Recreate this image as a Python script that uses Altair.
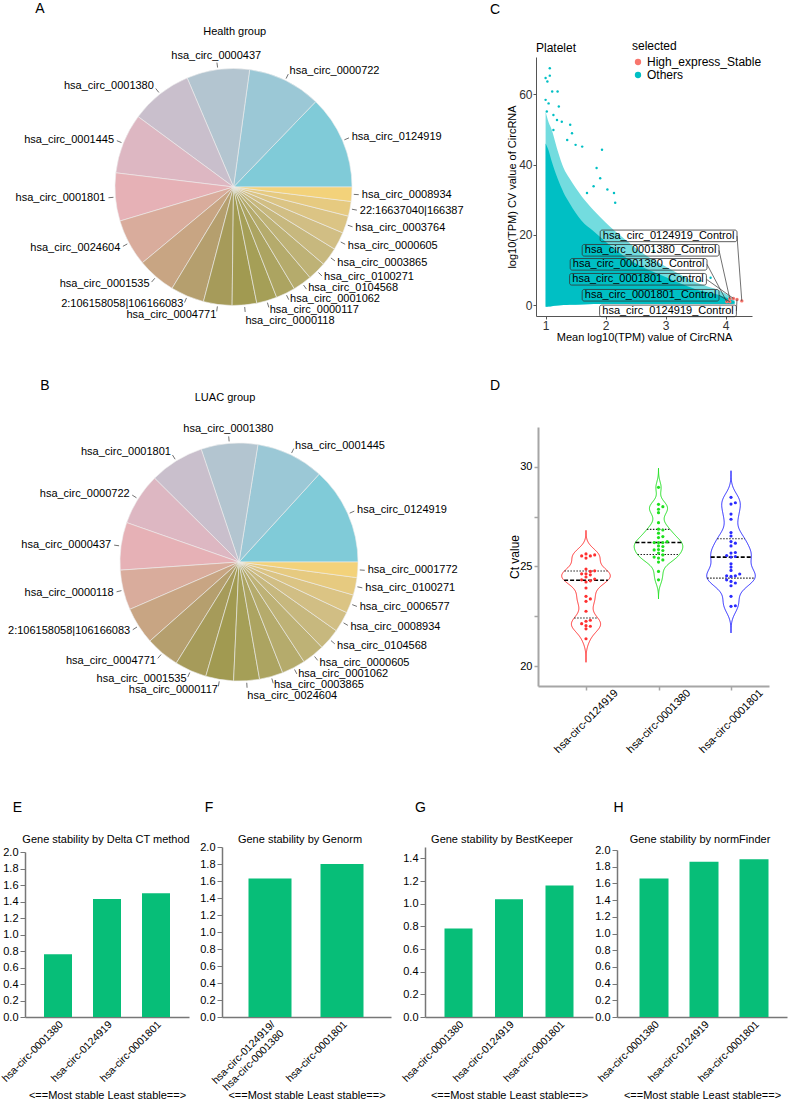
import math
import numpy as np
import pandas as pd
import altair as alt

FONT = "Liberation Sans"
CANVAS_W, CANVAS_H = 788, 1101

# ---------------- A / B: share of the most abundant circRNAs ----------------
health_names = [
    "hsa_circ_0124919", "hsa_circ_0000722", "hsa_circ_0000437", "hsa_circ_0001380",
    "hsa_circ_0001445", "hsa_circ_0001801", "hsa_circ_0024604", "hsa_circ_0001535",
    "2:106158058|106166083", "hsa_circ_0004771", "hsa_circ_0000118", "hsa_circ_0000117",
    "hsa_circ_0001062", "hsa_circ_0104568", "hsa_circ_0100271", "hsa_circ_0003865",
    "hsa_circ_0000605", "hsa_circ_0003764", "22:16637040|166387", "hsa_circ_0008934",
]
health_share = [46, 36, 30.8, 30.5, 29.5, 23.5, 23, 19, 16.5, 14,
                12, 10, 9.5, 9.3, 9.2, 9, 8.8, 8.5, 7.2, 7]

luac_names = [
    "hsa_circ_0124919", "hsa_circ_0001445", "hsa_circ_0001380", "hsa_circ_0001801",
    "hsa_circ_0000722", "hsa_circ_0000437", "hsa_circ_0000118", "2:106158058|106166083",
    "hsa_circ_0004771", "hsa_circ_0001535", "hsa_circ_0000117", "hsa_circ_0024604",
    "hsa_circ_0003865", "hsa_circ_0001062", "hsa_circ_0000605", "hsa_circ_0104568",
    "hsa_circ_0008934", "hsa_circ_0006577", "hsa_circ_0100271", "hsa_circ_0001772",
]
luac_share = [47.3, 33, 27.5, 26.5, 25.3, 23.1, 19.4, 18, 16.5, 15.5,
              13.5, 12.5, 11.5, 11.5, 11, 10.5, 10, 9, 8.5, 7.5]

slice_colors = [
    "#80cbd8", "#9bc8d6", "#b3c5d0", "#c9bfcc", "#ddb7c2", "#e6b1b6", "#d9ac9c",
    "#c8a583", "#b59f6e", "#a69b5a", "#a19a51", "#a59f57", "#aca461", "#b5ab6c",
    "#beb276", "#c7b87e", "#d1be84", "#dbc484", "#e6ca80", "#f3d27a",
]

# ---------------- C: platelet circRNA mean expression vs CV ----------------
cloud_x = [1.00, 1.05, 1.10, 1.20, 1.30, 1.40, 1.60, 1.80, 2.00, 2.30, 2.60, 3.00, 3.50, 4.00, 4.15]
cloud_edge = [55, 52, 50, 44, 39, 36, 31, 27, 23.5, 19, 15, 11, 6.5, 3.2, 1.4]
cloud_core = [46, 44, 41, 36, 32, 29, 24, 21, 18, 14, 11, 8, 4.5, 2.2, 1.0]
cloud_floor = [-0.5, -0.4, -0.3, -0.1, 0.0, 0.1, 0.2, 0.3, 0.3, 0.3, 0.3, 0.3, 0.3, 0.3, 0.4]

other_x = [1.07, 1.00, 1.07, 1.03, 1.11, 1.20, 1.00, 1.05, 1.22, 1.02, 1.13, 1.41, 1.19,
           1.27, 1.50, 1.61, 1.94, 1.91, 1.85, 2.14, 1.80, 1.69, 2.03, 1.36, 1.44, 1.13,
           2.16, 2.80, 3.30, 3.58, 3.75]
other_y = [67.4, 64.6, 65.3, 63.6, 60.8, 60.8, 58.4, 57.4, 56.5, 55.1, 54.1, 51.3, 52.7,
           52.2, 45.6, 45.1, 44.2, 36.1, 39.0, 31.9, 33.8, 31.9, 32.9, 47.0, 48.9, 49.8,
           29.1, 15.4, 7.8, 6.9, 7.8]
stable_x = [4.02, 4.07, 4.07, 4.13, 4.19, 4.27]
stable_y = [0.95, 1.8, 0.95, 1.9, 1.6, 1.2]

control_labels = ["hsa_circ_0124919_Control", "hsa_circ_0001380_Control",
                  "hsa_circ_0001380_Control", "hsa_circ_0001801_Control",
                  "hsa_circ_0001801_Control", "hsa_circ_0124919_Control"]
control_label_x = [3.05, 2.75, 2.55, 2.54, 2.75, 3.04]
control_label_y = [19.7, 15.6, 11.6, 7.35, 2.8, -1.65]
control_target = [5, 1, 0, 3, 2, 4]

# ---------------- D: Ct values of the three candidates ----------------
ct_groups = ["hsa-circ-0124919", "hsa-circ-0001380", "hsa-circ-0001801"]
ct_0124919 = [25.63, 25.58, 25.53, 25.53, 25.42, 24.87, 24.78, 24.75, 24.63, 24.63,
              24.58, 24.47, 24.37, 24.33, 24.28, 24.22, 23.92, 23.5, 23.37, 23.25,
              22.75, 22.3, 22.25, 22.13, 22.03, 22.0, 21.87, 21.37]
ct_0001380 = [28.97, 28.12, 28.0, 27.87, 27.7, 27.2, 26.87, 26.83, 26.67, 26.5,
              26.45, 26.25, 26.2, 26.2, 26.2, 26.03, 26.0, 25.85, 25.83, 25.8,
              25.67, 25.58, 25.47, 25.42, 25.33, 25.22, 24.75, 24.33]
ct_0001801 = [28.47, 28.2, 28.13, 27.63, 27.37, 26.7, 26.53, 26.25, 26.17, 26.03,
              25.7, 25.67, 25.55, 25.5, 25.47, 25.13, 24.97, 24.8, 24.62, 24.53,
              24.53, 24.5, 24.33, 24.25, 24.17, 24.03, 23.5, 23.03, 23.0]
ct_values = [ct_0124919, ct_0001380, ct_0001801]
ct_colors = ["#ff3030", "#1ee01e", "#2a2aff"]

# ---------------- E-H: stability scores ----------------
rank_genes = ["hsa-circ-0001380", "hsa-circ-0124919", "hsa-circ-0001801"]
delta_ct_score = [0.76, 1.43, 1.50]
genorm_genes = ["hsa-circ-0124919/hsa-circ-0001380", "hsa-circ-0001801"]
genorm_score = [1.63, 1.80]
bestkeeper_score = [0.78, 1.04, 1.16]
normfinder_score = [1.66, 1.86, 1.89]

CYAN = "#00bfc4"
SALMON = "#f8766d"
BAR_GREEN = "#07be78"


def note(text, x, y, size=11, align="center", angle=0):
    return alt.Chart(alt.Data(values=[{}])).mark_text(
        x=x, y=y, fontSize=size, align=align, baseline="middle", color="black", angle=angle
    ).encode(text=alt.value(text))


# ---------------- pie panels ----------------
def pie_panel(names, shares, cx, cy, R, gap=11.0):
    total = float(sum(shares))
    n = len(names)
    slices, labels, ticks = [], [], []
    cum = 0.0
    for i, (nm, v) in enumerate(zip(names, shares)):
        mid = 2 * math.pi * (cum + v / 2) / total   # counter-clockwise from 3 o'clock
        cum += v
        c, s = math.cos(mid), math.sin(mid)
        slices.append({"name": nm, "share": v, "stack": n - 1 - i})
        ticks.append({"x": (R + 2) * c, "y": (R + 2) * s, "x2": (R + 7) * c, "y2": (R + 7) * s})
        if abs(c) < 0.2 and s > 0:
            labels.append({"name": nm, "side": "center", "x": (R + 12) * c, "y": (R + 14) * s})
        else:
            labels.append({"name": nm, "side": "left" if c >= 0 else "right",
                           "x": (R + 10) * c, "y": (R + 10) * s})
    # push crowded labels apart vertically on each side
    for side in ("left", "right"):
        grp = sorted([l for l in labels if l["side"] == side], key=lambda l: -l["y"])
        for _ in range(500):
            moved = False
            for a, b in zip(grp, grp[1:]):
                d = a["y"] - b["y"]
                if d < gap - 1e-6:
                    sh = (gap - d) / 2
                    a["y"] += sh
                    b["y"] -= sh
                    moved = True
            if not moved:
                break

    xs = alt.Scale(domain=[-300, 300], range=[cx - 300, cx + 300], nice=False, zero=False)
    ys = alt.Scale(domain=[-300, 300], range=[cy + 300, cy - 300], nice=False, zero=False)

    arcs = alt.Chart(pd.DataFrame(slices)).mark_arc(
        radius=R, stroke="#ececec", strokeWidth=0.6
    ).encode(
        x=alt.XDatum(0, type="quantitative", scale=xs, axis=None),
        y=alt.YDatum(0, type="quantitative", scale=ys, axis=None),
        theta=alt.Theta("share:Q", stack=True,
                        scale=alt.Scale(range=[math.pi / 2, math.pi / 2 + 2 * math.pi])),
        order=alt.Order("stack:Q"),
        color=alt.Color("name:N", scale=alt.Scale(domain=names, range=slice_colors), legend=None),
    )
    leaders = alt.Chart(pd.DataFrame(ticks)).mark_rule(color="#4d4d4d", strokeWidth=0.8).encode(
        x=alt.X("x:Q", scale=xs, axis=None), y=alt.Y("y:Q", scale=ys, axis=None),
        x2="x2:Q", y2="y2:Q",
    )
    lab_df = pd.DataFrame(labels)
    layers = [arcs, leaders]
    for side in ("left", "right", "center"):
        sub = lab_df[lab_df["side"] == side]
        if len(sub) == 0:
            continue
        layers.append(
            alt.Chart(sub).mark_text(align=side, baseline="middle", fontSize=11, color="black").encode(
                x=alt.X("x:Q", scale=xs, axis=None), y=alt.Y("y:Q", scale=ys, axis=None),
                text="name:N",
            )
        )
    return alt.layer(*layers)


pie_a = pie_panel(health_names, health_share, 233.5, 187, 118.5)
pie_b = pie_panel(luac_names, luac_share, 239, 562, 119)

# ---------------- scatter panel C ----------------
sx = alt.Scale(domain=[0.84, 4.44], range=[536, 752], nice=False, zero=False)
sy = alt.Scale(domain=[-3.1, 70.6], range=[316, 57], nice=False, zero=False)
c_xaxis = alt.Axis(orient="bottom", offset=316 - CANVAS_H, values=[1, 2, 3, 4], format="d",
                   title="Mean log10(TPM) value of CircRNA", titleY=21, titleBaseline="middle",
                   titleFontSize=11, titleFontWeight="normal", labelFontSize=12, tickSize=3,
                   labelPadding=1, domainColor="#555", tickColor="#555", labelColor="#333",
                   grid=False, labelFlush=False)
c_yaxis = alt.Axis(orient="left", offset=-536, values=[0, 20, 40, 60], format="d",
                   title="log10(TPM) CV value of CircRNA", titleX=-24, titleBaseline="middle",
                   titleFontSize=11, titleFontWeight="normal", labelFontSize=12, tickSize=3,
                   labelPadding=1, domainColor="#555", tickColor="#555", labelColor="#333",
                   grid=False, labelFlush=False)

cloud = pd.DataFrame({"x": cloud_x, "edge": cloud_edge, "core": cloud_core, "floor": cloud_floor})
cloud_edge_layer = alt.Chart(cloud).mark_area(color=CYAN, opacity=0.55, interpolate="monotone").encode(
    x=alt.X("x:Q", scale=sx, axis=c_xaxis), y=alt.Y("edge:Q", scale=sy, axis=c_yaxis), y2="floor:Q")
cloud_core_layer = alt.Chart(cloud).mark_area(color=CYAN, opacity=1, interpolate="monotone").encode(
    x=alt.X("x:Q", scale=sx), y=alt.Y("core:Q", scale=sy), y2="floor:Q")

pts = pd.DataFrame({
    "x": other_x + stable_x,
    "y": other_y + stable_y,
    "selected": ["Others"] * len(other_x) + ["High_express_Stable"] * len(stable_x),
})
c_points = alt.Chart(pts).mark_circle(opacity=1).encode(
    x=alt.X("x:Q", scale=sx), y=alt.Y("y:Q", scale=sy),
    size=alt.Size("selected:N", scale=alt.Scale(domain=["High_express_Stable", "Others"], range=[12, 6]),
                  legend=None),
    color=alt.Color("selected:N",
                    scale=alt.Scale(domain=["High_express_Stable", "Others"], range=[SALMON, CYAN]),
                    legend=alt.Legend(title="selected", orient="none", legendX=632, legendY=41,
                                      titleFontSize=12, titleFontWeight="normal", labelFontSize=12,
                                      symbolType="circle", symbolSize=40, rowPadding=1,
                                      titlePadding=3, padding=0, labelOffset=3)),
)

BOX_HW, BOX_HH = 1.14, 1.65
lab = pd.DataFrame({
    "label": control_labels,
    "lx": control_label_x,
    "ly": control_label_y,
    "tx": [stable_x[i] for i in control_target],
    "ty": [stable_y[i] for i in control_target],
})
lab["bx1"] = lab["lx"] - BOX_HW
lab["bx2"] = lab["lx"] + BOX_HW
lab["by1"] = lab["ly"] - BOX_HH
lab["by2"] = lab["ly"] + BOX_HH
c_leaders = alt.Chart(lab).mark_rule(color="#333", strokeWidth=0.7).encode(
    x=alt.X("bx2:Q", scale=sx), y=alt.Y("ly:Q", scale=sy), x2="tx:Q", y2="ty:Q")
c_boxes = alt.Chart(lab).mark_rect(fillOpacity=0, stroke="#333", strokeWidth=0.8, cornerRadius=2).encode(
    x=alt.X("bx1:Q", scale=sx), x2="bx2:Q", y=alt.Y("by1:Q", scale=sy), y2="by2:Q")
c_text = alt.Chart(lab).mark_text(fontSize=11, color="black").encode(
    x=alt.X("lx:Q", scale=sx), y=alt.Y("ly:Q", scale=sy), text="label:N")

scatter_c = alt.layer(cloud_edge_layer, cloud_core_layer, c_points, c_leaders, c_boxes, c_text)

# ---------------- violin panel D ----------------
outline_rows, quart_rows, point_rows = [], [], []
HALF_MAX = 0.335


def swarm_offsets(vals, dy=0.16, dx=0.06):
    placed = []
    res = [0.0] * len(vals)
    cands = [0.0] + [s * j * dx for j in range(1, 12) for s in (1, -1)]
    for idx in np.argsort(vals):
        v = vals[idx]
        for c in cands:
            if all(not (abs(v - pv) < dy and abs(c - pc) < dx * 0.99) for pv, pc in placed):
                break
        placed.append((v, c))
        res[idx] = c
    return res


for gi, (g, vals) in enumerate(zip(ct_groups, ct_values)):
    arr = np.asarray(vals, dtype=float)
    h = 0.5 * 1.06 * arr.std(ddof=1) * len(arr) ** (-0.2)
    grid = np.linspace(arr.min() - 3.3 * h, arr.max() + 3.3 * h, 220)
    dens = np.exp(-0.5 * ((grid[:, None] - arr[None, :]) / h) ** 2).sum(axis=1)
    half = HALF_MAX * dens / dens.max()
    for yv, hw in zip(grid, half):
        outline_rows.append({"group": g, "y": float(yv), "xl": gi - float(hw), "xr": gi + float(hw)})
    q1, med, q3 = np.percentile(arr, [25, 50, 75], method="weibull")
    for kind, qv in (("quartile", q1), ("median", med), ("quartile", q3)):
        hw = float(np.interp(qv, grid, half))
        quart_rows.append({"group": g, "kind": kind, "y": float(qv), "x1": gi - hw, "x2": gi + hw})
    for v, off in zip(vals, swarm_offsets(vals)):
        point_rows.append({"group": g, "ct": v, "px": gi + off})

vx = alt.Scale(domain=[-0.662, 2.524], range=[538, 769], nice=False, zero=False)
vy = alt.Scale(domain=[19, 32], range=[686, 427], nice=False, zero=False)
label_array = "[" + ",".join("'%s'" % g for g in ct_groups) + "]"
d_xaxis = alt.Axis(orient="bottom", offset=686 - CANVAS_H, values=[0, 1, 2],
                   labelExpr=label_array + "[datum.value]", labelAngle=-45, labelAlign="center",
                   labelBaseline="middle", labelPadding=31, labelFontSize=11, tickSize=4,
                   domainColor="#a6a6a6", domainWidth=2, tickColor="#a6a6a6", tickWidth=1.5,
                   labelColor="black", title=None, grid=False, labelFlush=False, labelOverlap=False)
d_yaxis = alt.Axis(orient="left", offset=-538, values=[20, 22.5, 25, 27.5, 30],
                   labelExpr="datum.value % 5 == 0 ? format(datum.value, 'd') : ''", labelFontSize=11,
                   tickSize=4, domainColor="#a6a6a6", domainWidth=2, tickColor="#a6a6a6",
                   tickWidth=1.5, labelColor="black", title="Ct value", titleX=-24,
                   titleBaseline="middle", titleFontSize=12, titleFontWeight="normal",
                   grid=False, labelFlush=False)
d_color = alt.Color("group:N", scale=alt.Scale(domain=ct_groups, range=ct_colors), legend=None)

violin_lines = alt.Chart(pd.DataFrame(outline_rows)).transform_fold(
    ["xl", "xr"], as_=["edge", "xpos"]
).mark_line(strokeWidth=1).encode(
    x=alt.X("xpos:Q", scale=vx, axis=d_xaxis),
    y=alt.Y("y:Q", scale=vy, axis=d_yaxis),
    detail="edge:N",
    color=d_color,
    order=alt.Order("y:Q"),
)
qdf = pd.DataFrame(quart_rows)
median_rules = alt.Chart(qdf[qdf["kind"] == "median"]).mark_rule(
    color="black", strokeWidth=1.6, strokeDash=[4, 2]
).encode(x=alt.X("x1:Q", scale=vx), x2="x2:Q", y=alt.Y("y:Q", scale=vy))
quart_rules = alt.Chart(qdf[qdf["kind"] == "quartile"]).mark_rule(
    color="#222", strokeWidth=1.1, strokeDash=[1.5, 1.5]
).encode(x=alt.X("x1:Q", scale=vx), x2="x2:Q", y=alt.Y("y:Q", scale=vy))
violin_pts = alt.Chart(pd.DataFrame(point_rows)).mark_circle(size=10, opacity=1).encode(
    x=alt.X("px:Q", scale=vx), y=alt.Y("ct:Q", scale=vy), color=d_color)

violin_d = alt.layer(violin_lines, median_rules, quart_rules, violin_pts)


# ---------------- bar panels E-H ----------------
def bar_panel(cats, vals, xr, ytop, ymax, step, bw, c0, multiline=False):
    W = xr[1] - xr[0]
    n = len(cats)
    p_in = 1 - bw / step
    p_out = (W / step - n + p_in) / 2
    extra = W - step * (n - p_in)
    align = (c0 - bw / 2) / extra
    xs = alt.Scale(domain=cats, range=list(xr), paddingInner=p_in, paddingOuter=p_out, align=align)
    ys = alt.Scale(domain=[0, ymax], range=[1017, ytop], nice=False, zero=True)
    xaxis_kw = dict(orient="bottom", offset=1017 - CANVAS_H, labelAngle=-45, labelAlign="right",
                    labelBaseline="top", ticks=False, labelPadding=2, labelFontSize=10.5,
                    labelColor="black", domainColor="#777", domainWidth=1.5,
                    title="<==Most stable Least stable==>", titleFontSize=11,
                    titleFontWeight="normal", titleY=78, titleBaseline="middle",
                    grid=False, labelOverlap=False, labelLimit=0)
    if multiline:
        xaxis_kw["labelExpr"] = ("indexof(datum.label, '/') > 0 ? "
                                 "[slice(datum.label, 0, indexof(datum.label, '/') + 1), "
                                 "slice(datum.label, indexof(datum.label, '/') + 1)] : datum.label")
    yvals = [round(0.2 * k, 1) for k in range(int(round(ymax / 0.2)) + 1) if 0.2 * k <= ymax + 1e-9]
    yaxis = alt.Axis(orient="left", offset=-xr[0], values=yvals, format=".1f", tickSize=5,
                     labelFontSize=11, labelColor="black", domainColor="#777", domainWidth=1.5,
                     tickColor="#777", title=None, grid=False, labelFlush=False)
    df = pd.DataFrame({"gene": cats, "value": vals})
    return alt.Chart(df).mark_bar(color=BAR_GREEN).encode(
        x=alt.X("gene:N", sort=cats, scale=xs, axis=alt.Axis(**xaxis_kw)),
        y=alt.Y("value:Q", scale=ys, axis=yaxis),
    )


bar_e = bar_panel(rank_genes, delta_ct_score, (25, 189), 852, 2.0, 49, 28, 33)
bar_f = bar_panel(genorm_genes, genorm_score, (222, 391), 847, 2.0, 72, 43, 48, multiline=True)
bar_g = bar_panel(rank_genes, bestkeeper_score, (425, 593), 847, 1.5, 50.5, 28, 33.5)
bar_h = bar_panel(rank_genes, normfinder_score, (617, 787), 850, 2.0, 50, 29, 37)

# ---------------- panel letters and headings ----------------
notes = [
    note("A", 40, 9, 14), note("B", 45, 386, 14), note("C", 495, 10, 14), note("D", 495, 386, 14),
    note("E", 17.5, 808, 14), note("F", 209, 808, 14), note("G", 420.5, 808, 14), note("H", 618.5, 808, 14),
    note("Health group", 234.7, 32), note("LUAC group", 225, 398),
    note("Platelet", 536, 48, 12, align="left"),
    note("Gene stability by Delta CT method", 106, 840),
    note("Gene stability by Genorm", 300, 840),
    note("Gene stability by BestKeeper", 502, 840),
    note("Gene stability by normFinder", 700, 840),
]

chart = alt.layer(
    pie_a, pie_b, scatter_c, violin_d, bar_e, bar_f, bar_g, bar_h, *notes
).resolve_scale(
    x="independent", y="independent", color="independent", theta="independent"
).resolve_axis(
    x="independent", y="independent"
).properties(
    width=CANVAS_W, height=CANVAS_H,
    autosize=alt.AutoSizeParams(type="none"), padding=0,
).configure(
    font=FONT
).configure_view(stroke=None)

chart.save("out.html", embed_options={"renderer": "svg", "actions": False})
